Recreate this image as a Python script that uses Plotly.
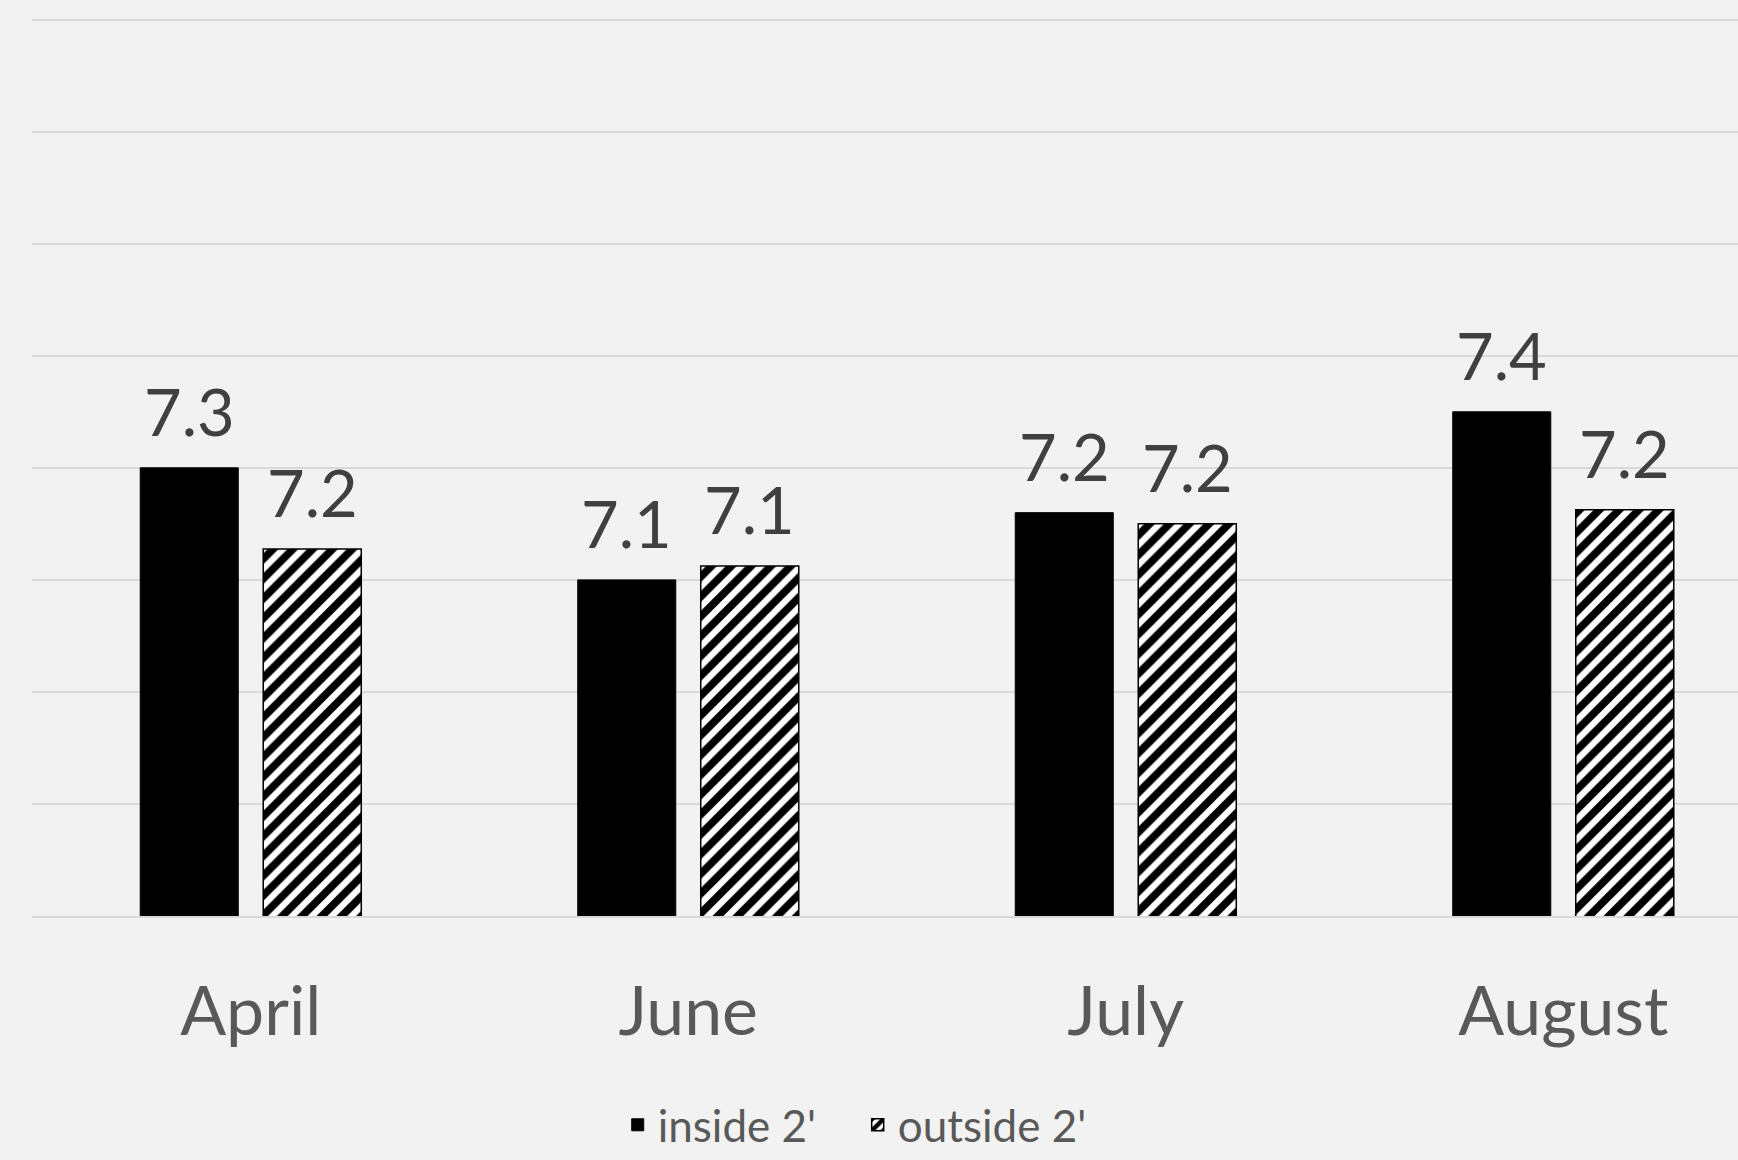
import plotly.graph_objects as go

# ---- data ----
months = ["April", "June", "July", "August"]
series_names = ["inside 2'", "outside 2'"]
inside_vals = [7.30, 7.10, 7.22, 7.40]
outside_vals = [7.155, 7.125, 7.20, 7.225]
y_min, y_max, y_step = 6.5, 8.1, 0.2

BARGAP = 0.4377
BARGROUPGAP = 0.203
LABEL_FONT = "Lato"

fig = go.Figure()
fig.add_trace(go.Bar(
    name=series_names[0], x=months, y=inside_vals,
    marker=dict(color="black", line=dict(color="black", width=1)),
))
fig.add_trace(go.Bar(
    name=series_names[1], x=months, y=outside_vals,
    marker=dict(color="white", line=dict(color="black", width=1.5),
                pattern=dict(shape="/", fgcolor="black", bgcolor="white",
                             fgopacity=1, size=14, solidity=0.55)),
))

# data labels above each bar
slot_off = (1 - BARGAP) / 4
for vals, sign in [(inside_vals, -1), (outside_vals, 1)]:
    for i, v in enumerate(vals):
        fig.add_annotation(
            x=i + sign * slot_off, y=v, xref="x", yref="y",
            text=f"{v:.1f}", showarrow=False, yanchor="bottom", yshift=16,
            font=dict(family=LABEL_FONT, size=65, color="#404040"),
        )

fig.update_layout(
    width=1738, height=1160,
    paper_bgcolor="#f2f2f2", plot_bgcolor="#f2f2f2",
    margin=dict(l=32, r=0, t=18, b=244, autoexpand=False),
    barmode="group", bargap=BARGAP, bargroupgap=BARGROUPGAP,
    showlegend=True,
    legend=dict(orientation="h", x=0.484, xanchor="center",
                y=-0.2725, yanchor="bottom", entrywidth=195,
                font=dict(family=LABEL_FONT, size=44, color="#595959"),
                bgcolor="rgba(0,0,0,0)"),
    xaxis=dict(type="category", range=[-0.5, 3.3994], showgrid=False,
               ticks="", ticklabelstandoff=36,
               tickfont=dict(family=LABEL_FONT, size=68, color="#595959"),
               showline=True, linecolor="#d9d9d9", linewidth=1.5),
    yaxis=dict(range=[y_min, y_max + 0.003], tick0=y_min, dtick=y_step,
               showticklabels=False, ticks="", zeroline=False,
               gridcolor="#d9d9d9", gridwidth=1.5),
)

fig.write_html("out.html", config={"displayModeBar": False},
               post_script="document.body.style.margin='0';document.body.style.overflow='hidden';")
